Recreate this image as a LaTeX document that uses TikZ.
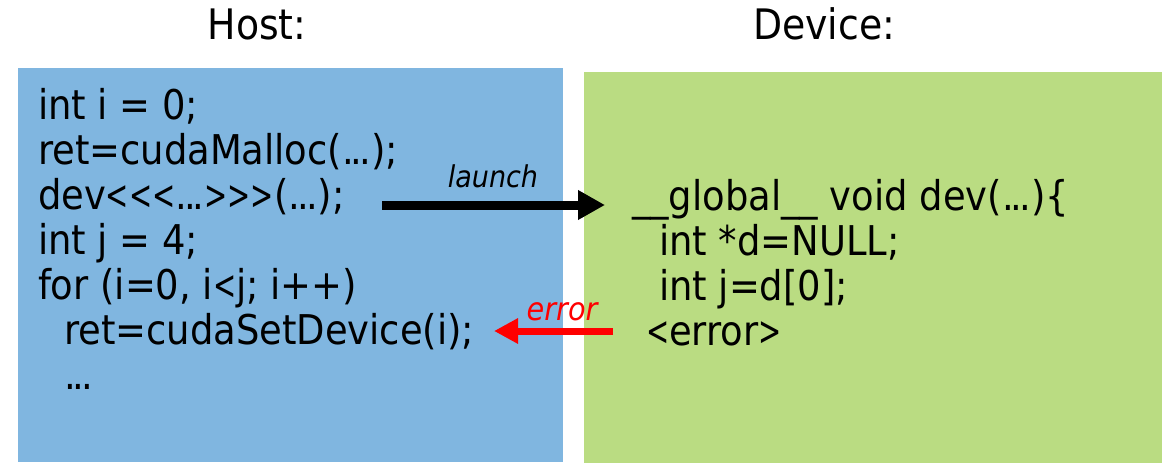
\documentclass[tikz,border=0pt]{standalone}
\usepackage{fontspec}
\usepackage{graphicx}
\usetikzlibrary{arrows.meta}
\newfontfamily\codefont{DejaVu Sans Condensed}
\newcommand{\mydots}{\mbox{.\kern-3pt.\kern-3pt.}}
\newcommand{\smlt}{\scalebox{0.75}[1.0]{<}}
\newcommand{\smgt}{\scalebox{0.75}[1.0]{>}}
\definecolor{hostblue}{RGB}{128,182,224}
\definecolor{devgreen}{RGB}{186,220,130}
\definecolor{errred}{RGB}{255,0,0}
\begin{document}
\begin{tikzpicture}[x=1pt,y=-1pt,
  box/.style={inner sep=0pt, outer sep=0pt, anchor=north west},
  codeline/.style={inner sep=0pt, outer sep=0pt, anchor=base west, font=\codefont\fontsize{41}{45}\selectfont},
  heading/.style={inner sep=0pt, anchor=base, font=\codefont\fontsize{42}{45}\selectfont},
  arrlabel/.style={inner sep=0pt, anchor=base, font=\codefont\itshape\fontsize{30}{34}\selectfont}]
\useasboundingbox (0,0) rectangle (1162,463);
\node[box, fill=hostblue, minimum width=545pt, minimum height=394pt] (host) at (18,68) {};
\node[box, fill=devgreen, minimum width=578pt, minimum height=391pt] (dev) at (584,72) {};
\node[heading] (hhost) at (257,39) {Host:};
\node[heading] (hdev) at (824,39) {Device:};
% host code
\node[codeline] (h1) at (38,119) {int i = 0;};
\node[codeline] (h2) at (38,164) {ret=cudaMalloc(\mydots);};
\node[codeline] (h3) at (38,209) {dev\smlt\smlt\smlt\mydots\smgt\smgt\smgt(\mydots);};
\node[codeline] (h4) at (38,254) {int j = 4;};
\node[codeline] (h5) at (38,299) {for (i=0, i\smlt j; i++)};
\node[codeline] (h6) at (64,344) {ret=cudaSetDevice(i);};
\node[codeline] (h7) at (64,389) {\mydots};
% device code
\node[codeline] (d1) at (632,210) {\_\_global\_\_ void dev(\mydots)\{};
\node[codeline] (d2) at (659,255) {int *d=NULL;};
\node[codeline] (d3) at (659,300) {int j=d[0];};
\node[codeline] (d4) at (646,345) {\smlt error\smgt};
% arrows
\coordinate (lS) at (382,205);
\coordinate (lE) at (605,205);
\coordinate (eS) at (613,331);
\coordinate (eE) at (494,331);
\draw[line width=9pt, -{Triangle[length=27pt,width=28pt]}] (lS) -- (lE);
\draw[errred, line width=7pt, -{Triangle[length=24pt,width=24pt]}] (eS) -- (eE);
\node[arrlabel] (llaunch) at (493,187) {launch};
\node[arrlabel, text=errred, font=\codefont\itshape\fontsize{32}{34}\selectfont] (lerror) at (562,320) {error};
\end{tikzpicture}
\end{document}
